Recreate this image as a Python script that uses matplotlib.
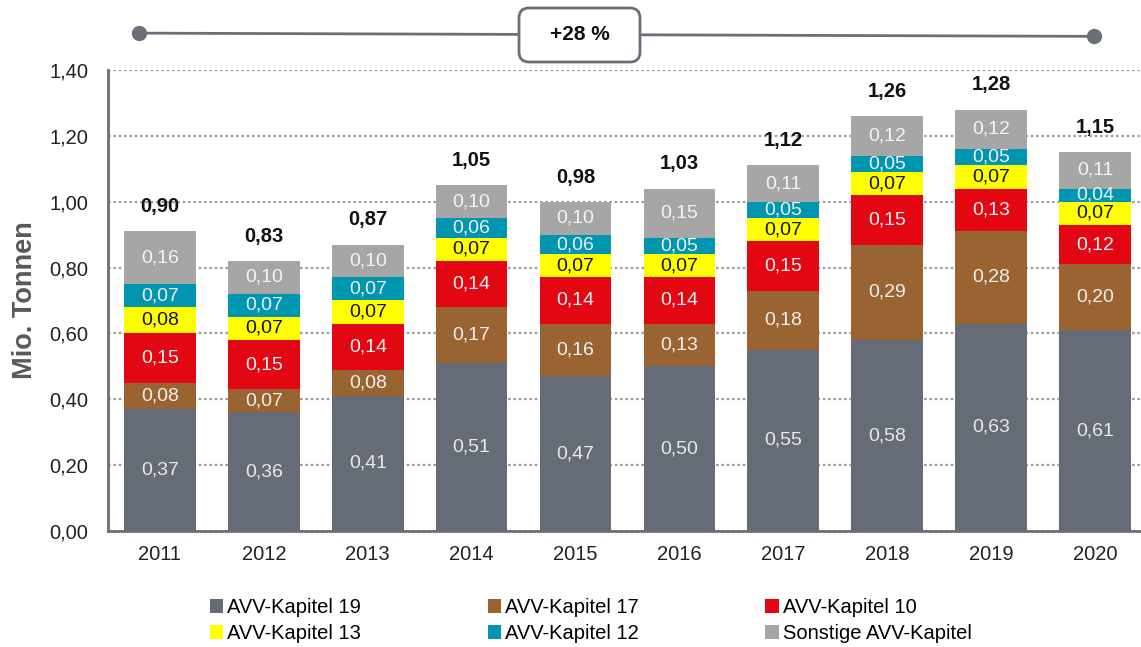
import matplotlib
matplotlib.use("Agg")
import matplotlib.pyplot as plt
import numpy as np
from matplotlib.patches import Patch, FancyBboxPatch

plt.rcParams['font.family'] = ['Liberation Sans', 'DejaVu Sans']

years = ["2011", "2012", "2013", "2014", "2015", "2016", "2017", "2018", "2019", "2020"]
kap19 = [0.37, 0.36, 0.41, 0.51, 0.47, 0.50, 0.55, 0.58, 0.63, 0.61]
kap17 = [0.08, 0.07, 0.08, 0.17, 0.16, 0.13, 0.18, 0.29, 0.28, 0.20]
kap10 = [0.15, 0.15, 0.14, 0.14, 0.14, 0.14, 0.15, 0.15, 0.13, 0.12]
kap13 = [0.08, 0.07, 0.07, 0.07, 0.07, 0.07, 0.07, 0.07, 0.07, 0.07]
kap12 = [0.07, 0.07, 0.07, 0.06, 0.06, 0.05, 0.05, 0.05, 0.05, 0.04]
sonst = [0.16, 0.10, 0.10, 0.10, 0.10, 0.15, 0.11, 0.12, 0.12, 0.11]
totals = [0.90, 0.83, 0.87, 1.05, 0.98, 1.03, 1.12, 1.26, 1.28, 1.15]
growth_label = "+28 %"

series_names = ["AVV-Kapitel 19", "AVV-Kapitel 17", "AVV-Kapitel 10",
                "AVV-Kapitel 13", "AVV-Kapitel 12", "Sonstige AVV-Kapitel"]
series_vals = [kap19, kap17, kap10, kap13, kap12, sonst]
colors = ["#666c75", "#9a6432", "#e30613", "#ffff00", "#0096b0", "#a6a6a6"]
text_colors = ["#e8e8e8", "#f0f0f0", "#f4f4f4", "#111111", "#f0f0f0", "#f4f4f4"]

fig = plt.figure(figsize=(11.41, 6.47), dpi=100)
ax = fig.add_axes([0.0947, 0.1793, 0.905, 0.7125])

x = np.arange(len(years))
bottom = np.zeros(len(years))
handles = []
for name, vals, c, tc in zip(series_names, series_vals, colors, text_colors):
    v = np.array(vals)
    ax.bar(x, v, 0.69, bottom=bottom, color=c, zorder=3, linewidth=0)
    for xi, b, vi in zip(x, bottom, v):
        ax.text(xi, b + vi / 2, f"{vi:.2f}".replace(".", ","), ha="center", va="center",
                color=tc, fontsize=14, zorder=4)
    bottom = bottom + v
    handles.append(Patch(facecolor=c, edgecolor="none"))

for xi, tot, top in zip(x, totals, bottom):
    ax.text(xi, top + 0.075, f"{tot:.2f}".replace(".", ","), ha="center", va="center",
            fontsize=14.5, fontweight="bold", color="#111111", zorder=4)

ax.set_xlim(-0.5, 9.44)
ax.set_ylim(0, 1.40)
ticks = np.arange(0, 1.41, 0.2)
ax.set_yticks(ticks)
ax.set_yticklabels([f"{t:.2f}".replace(".", ",") for t in ticks])
ax.set_xticks(x)
ax.set_xticklabels(years)
ax.tick_params(axis="both", length=0, labelsize=14.5, colors="#222222")
ax.tick_params(axis="x", pad=10)
ax.tick_params(axis="y", pad=14)
ax.yaxis.grid(True, linestyle=(0, (1.2, 1.2)), color="#a0a0a0", linewidth=1.6, zorder=0)
ax.set_axisbelow(True)
for s in ["top", "right"]:
    ax.spines[s].set_visible(False)
for s in ["left", "bottom"]:
    ax.spines[s].set_color("#6b7078")
    ax.spines[s].set_linewidth(2)
ax.set_ylabel("Mio. Tonnen", fontsize=19.5, fontweight="bold", color="#595959", labelpad=8)

# growth annotation
trans = ax.get_xaxis_transform()
ax.plot([-0.2, 8.99], [1.080, 1.073], transform=trans, color="#6b7078", linewidth=2,
        clip_on=False, zorder=5)
ax.plot([-0.2, 8.99], [1.080, 1.073], transform=trans, color="#6b7078", marker="o",
        markersize=10, linestyle="none", clip_on=False, zorder=5)
box = FancyBboxPatch((5.19, 5.85), 1.21, 0.54, boxstyle="round,pad=0,rounding_size=0.1",
                     transform=fig.dpi_scale_trans, facecolor="white", edgecolor="#6b7078",
                     linewidth=2, zorder=6)
fig.add_artist(box)
fig.text(5.795 / 11.41, 6.12 / 6.47, growth_label, ha="center", va="center", fontsize=15,
         fontweight="bold", color="#111111", zorder=7)

order = [0, 3, 1, 4, 2, 5]
fig.legend([handles[i] for i in order], [series_names[i] for i in order],
           loc="lower left", bbox_to_anchor=(0.168, -0.022),
           ncol=3, frameon=False, fontsize=14.5, handlelength=0.65, handleheight=0.65,
           handletextpad=0.2, columnspacing=6.3, labelspacing=0.35)

fig.savefig("out.png", dpi=100)
